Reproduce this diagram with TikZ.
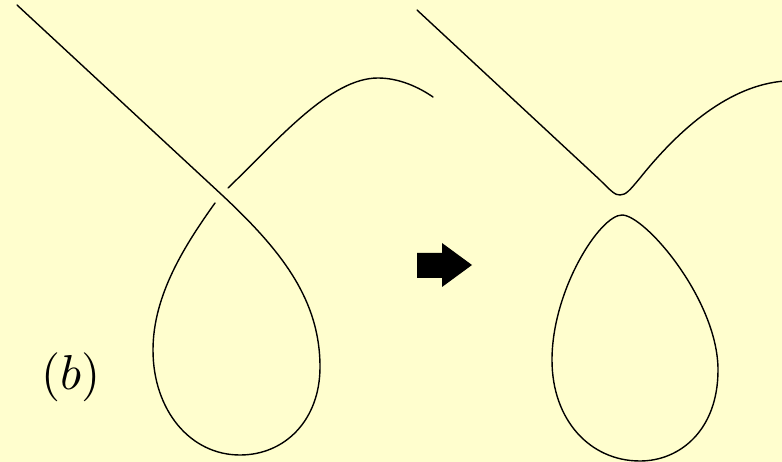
\documentclass[tikz,border=0pt]{standalone}
\usepackage{tikz}
\definecolor{bgyellow}{RGB}{255,254,206}
\tikzset{
  strand/.style={draw=black, line width=1.4pt, line cap=round, line join=round},
  blockarrow/.style={fill=black, draw=none},
  lbl/.style={inner sep=0pt, scale=4.9}
}
\begin{document}
\begin{tikzpicture}[x=1pt,y=-1pt]
\fill[bgyellow] (0,0) rectangle (782,462);
\useasboundingbox (0,0) rectangle (782,462);
% ---- left: loop with crossing ----
\draw[strand] (17,5) -- (222,195)
  .. controls (282,251) and (320,300) .. (320,367)
  .. controls (320,420) and (285,455) .. (240,455)
  .. controls (190,455) and (153,410) .. (153,350)
  .. controls (153,295) and (185,245) .. (215,203);
\draw[strand] (228,188) .. controls (278,140) and (330,78) .. (378,78)
  .. controls (400,78) and (420,88) .. (433,97);
% ---- block arrow ----
\fill[blockarrow] (417,253) -- (442,253) -- (442,243) -- (472,265) -- (442,287) -- (442,278) -- (417,278) -- cycle;
% ---- right: smoothed V and detached loop ----
\draw[strand] (417,10) -- (600,180)
  .. controls (612,192) and (615,195) .. (620,195)
  .. controls (626,195) and (630,190) .. (640,178)
  .. controls (680,128) and (730,85) .. (785,81);
\draw[strand] (622,215) .. controls (645,215) and (718,300) .. (718,370)
  .. controls (718,430) and (680,461) .. (640,461)
  .. controls (590,461) and (552,420) .. (552,360)
  .. controls (552,290) and (600,215) .. (622,215) -- cycle;
% ---- label ----
\node[lbl] (lab) at (71,377) {$(b)$};
\end{tikzpicture}
\end{document}
